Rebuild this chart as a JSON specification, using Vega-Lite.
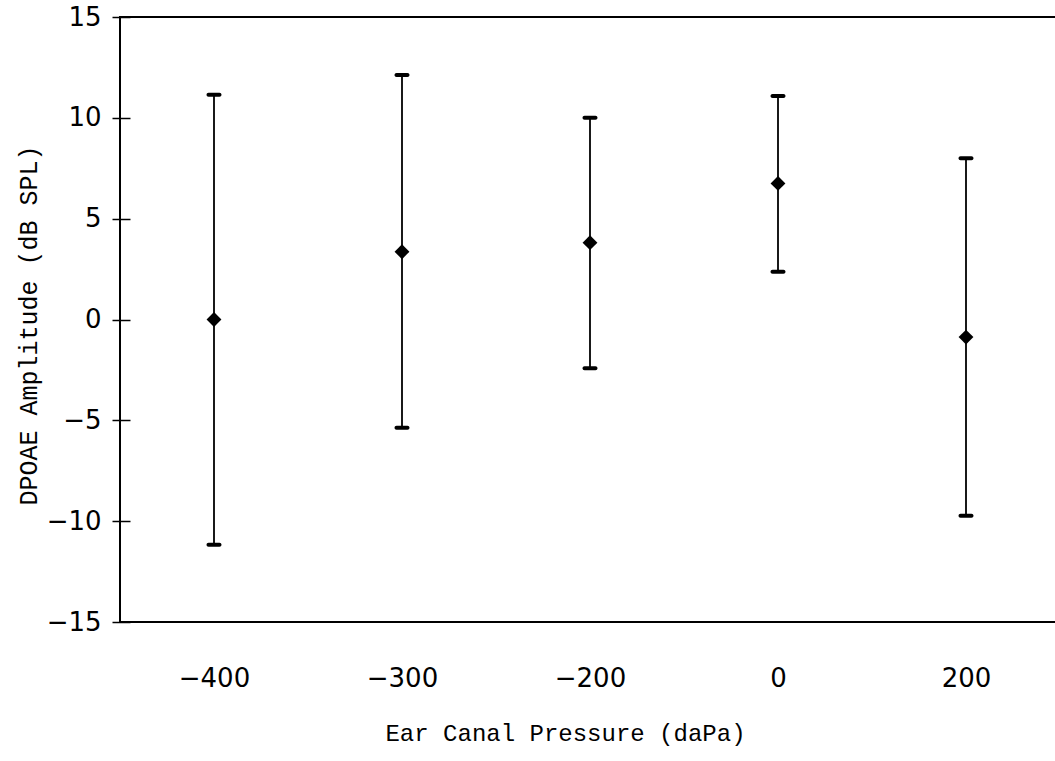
{
  "$schema": "https://vega.github.io/schema/vega-lite/v6.json",
  "width": 940,
  "height": 605,
  "autosize": {"type": "none"},
  "padding": {"left": 120, "top": 17, "right": -5, "bottom": 139},
  "background": "white",
  "config": {
    "view": {"stroke": "black", "strokeWidth": 2},
    "axis": {"grid": false}
  },
  "data": {
    "values": [
      {"pressure": "-400", "mean": 0.0, "lower": -11.17, "upper": 11.15},
      {"pressure": "-300", "mean": 3.36, "lower": -5.37, "upper": 12.12},
      {"pressure": "-200", "mean": 3.81, "lower": -2.42, "upper": 10.0},
      {"pressure": "0", "mean": 6.75, "lower": 2.37, "upper": 11.08},
      {"pressure": "200", "mean": -0.87, "lower": -9.73, "upper": 8.0}
    ]
  },
  "encoding": {
    "x": {
      "field": "pressure",
      "type": "ordinal",
      "sort": ["-400", "-300", "-200", "0", "200"],
      "scale": {"type": "point", "padding": 0.5},
      "axis": {
        "title": "Ear Canal Pressure (daPa)",
        "domain": false,
        "ticks": false,
        "tickSize": 0,
        "labelAngle": 0,
        "labelExpr": "replace(datum.label, '-', '\u2212')",
        "labelFont": "DejaVu Sans",
        "labelFontSize": 26,
        "labelColor": "black",
        "labelBaseline": "middle",
        "labelPadding": 56,
        "titleFont": "Liberation Mono",
        "titleFontSize": 24,
        "titleFontWeight": "normal",
        "titleColor": "black",
        "titleX": 445,
        "titleY": 111,
        "titleBaseline": "middle",
        "titleAlign": "center"
      }
    }
  },
  "layer": [
    {
      "mark": {"type": "rule", "color": "black", "strokeWidth": 1.8},
      "encoding": {
        "y": {
          "field": "lower",
          "type": "quantitative",
          "scale": {"domain": [-15, 15], "nice": false, "zero": false},
          "axis": {
            "title": "DPOAE Amplitude (dB SPL)",
            "values": [-15, -10, -5, 0, 5, 10, 15],
            "domain": false,
            "offset": -10,
            "tickSize": 18,
            "tickWidth": 1.5,
            "tickColor": "black",
            "labelFont": "DejaVu Sans",
            "labelFontSize": 26,
            "labelColor": "black",
            "labelPadding": 11,
            "labelFlush": false,
            "labelOverlap": false,
            "titleFont": "Liberation Mono",
            "titleFontSize": 25,
            "titleFontWeight": "normal",
            "titleColor": "black",
            "titleAngle": -90,
            "titleX": -102,
            "titleY": 308,
            "titleBaseline": "middle",
            "titleAlign": "center"
          }
        },
        "y2": {"field": "upper"}
      }
    },
    {
      "mark": {"type": "tick", "orient": "horizontal", "color": "black", "size": 15, "thickness": 4, "cornerRadius": 2, "opacity": 1},
      "encoding": {"y": {"field": "upper", "type": "quantitative"}}
    },
    {
      "mark": {"type": "tick", "orient": "horizontal", "color": "black", "size": 15, "thickness": 4, "cornerRadius": 2, "opacity": 1},
      "encoding": {"y": {"field": "lower", "type": "quantitative"}}
    },
    {
      "mark": {"type": "point", "shape": "diamond", "filled": true, "color": "black", "size": 220, "opacity": 1},
      "encoding": {"y": {"field": "mean", "type": "quantitative"}}
    }
  ]
}
